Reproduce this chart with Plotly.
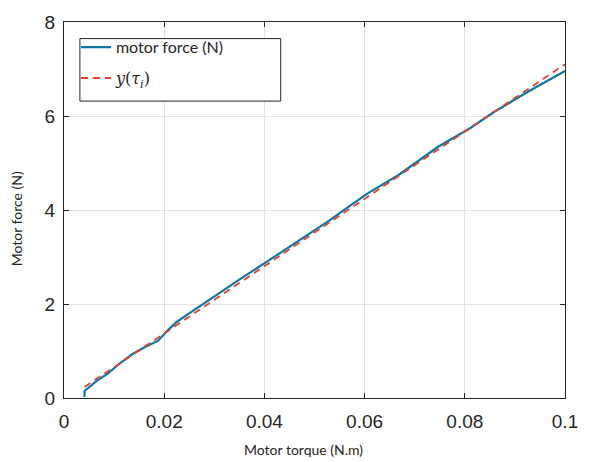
import plotly.graph_objects as go

# Measured motor force against motor torque
torque = [0.0041, 0.0041, 0.0066, 0.0086, 0.0113, 0.0136, 0.0159, 0.0188, 0.0208,
          0.0225, 0.0258, 0.0300, 0.0350, 0.0405, 0.0448, 0.0488, 0.0530, 0.0567,
          0.0607, 0.0667, 0.0726, 0.0746, 0.0812, 0.0859, 0.0925, 0.1000]
force = [0.02, 0.15, 0.37, 0.51, 0.75, 0.93, 1.07, 1.22, 1.45,
         1.62, 1.86, 2.17, 2.52, 2.90, 3.20, 3.49, 3.78, 4.06,
         4.36, 4.74, 5.20, 5.34, 5.75, 6.09, 6.51, 6.96]

# Linear model y(tau_i)
fit_torque = [0.0041, 0.1000]
fit_force = [0.235, 7.10]

x_ticks = [0, 0.02, 0.04, 0.06, 0.08, 0.1]
x_labels = ["0", "0.02", "0.04", "0.06", "0.08", "0.1"]
y_ticks = [0, 2, 4, 6, 8]
y_labels = ["0", "2", "4", "6", "8"]

fig = go.Figure()
fig.add_trace(go.Scatter(
    x=torque, y=force, mode="lines", name="motor force (N)", legendgroup="a",
    line=dict(color="#0f76a6", width=2.2),
))
fig.add_trace(go.Scatter(
    x=fit_torque, y=fit_force, mode="lines", legendgroup="b",
    name='<span style="font-family:\'DejaVu Serif\', serif"><i>y</i>(<i>τ</i><sub><i>i</i></sub>)</span>',
    line=dict(color="#e0452e", width=1.8, dash="7px,5px"),
))

L, R, T, B = 64, 22, 13, 64
W, H = 590, 462
PW, PH = W - L - R, H - T - B


def px_x(px):
    return (px - L) / PW


def px_y(py):
    return ((H - B) - py) / PH


tick_font = dict(family="Liberation Sans, Arial, sans-serif", size=19, color="#262626")
axis_common = dict(
    showline=True, linecolor="#262626", linewidth=1, mirror="ticks",
    ticks="inside", ticklen=5, tickcolor="#262626", tickwidth=1,
    showgrid=True, gridcolor="#e3e3e3", gridwidth=1,
    zeroline=False, tickfont=tick_font,
)

fig.update_xaxes(range=[0, 0.1], tickvals=x_ticks, ticktext=x_labels,
                 ticklabelstandoff=6, **axis_common)
fig.update_yaxes(range=[0, 8], tickvals=y_ticks, ticktext=y_labels,
                 ticklabelstandoff=4, **axis_common)

title_font = dict(family="Lato, 'Open Sans', sans-serif", size=14, color="#262626")
fig.add_annotation(text="Motor torque (N.m)", xref="paper", yref="paper",
                   x=px_x(305), y=0, yanchor="middle", xanchor="center",
                   yshift=-(449 - (H - B)), showarrow=False, font=title_font)
fig.add_annotation(text="Motor force (N)", xref="paper", yref="paper",
                   x=0, xanchor="center", xshift=-(L - 16),
                   y=px_y(215), yanchor="middle",
                   textangle=-90, showarrow=False, font=title_font)

# Legend frame
fig.add_shape(type="rect", xref="paper", yref="paper",
              x0=px_x(80), x1=px_x(282), y0=px_y(94), y1=px_y(30),
              fillcolor="white", line=dict(color="#262626", width=1), layer="above")

fig.update_layout(
    width=W, height=H,
    margin=dict(l=L, r=R, t=T, b=B, pad=0),
    paper_bgcolor="white", plot_bgcolor="white",
    showlegend=True,
    legend=dict(
        x=px_x(76), y=px_y(21.5),
        xanchor="left", yanchor="top",
        bgcolor="rgba(0,0,0,0)", borderwidth=0,
        font=dict(family="Lato, 'Open Sans', sans-serif", size=16, color="#262626"),
        tracegroupgap=7, itemwidth=30,
    ),
)

fig.write_html("out.html")
